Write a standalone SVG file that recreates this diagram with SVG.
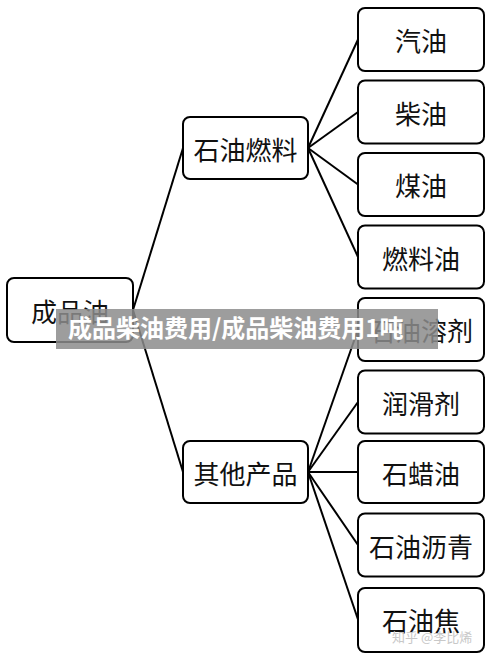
<svg xmlns="http://www.w3.org/2000/svg" width="496" height="660" viewBox="0 0 496 660">
<style>
.box{fill:#fff;stroke:#000;stroke-width:2}
.lbl{font-family:"Noto Sans CJK SC","Noto Sans",sans-serif;font-size:26px;fill:#111;text-anchor:middle;dominant-baseline:central}
.ln{stroke:#000;stroke-width:2;fill:none}
</style>
<rect width="496" height="660" fill="#fff"/>
<g id="connectors">
<line class="ln" x1="133" y1="310" x2="183" y2="148"/>
<line class="ln" x1="133" y1="310" x2="183" y2="472"/>
<line class="ln" x1="308" y1="148" x2="358" y2="39.5"/>
<line class="ln" x1="308" y1="148" x2="358" y2="112"/>
<line class="ln" x1="308" y1="148" x2="358" y2="184.5"/>
<line class="ln" x1="308" y1="148" x2="358" y2="257"/>
<line class="ln" x1="308" y1="472" x2="358" y2="329.5"/>
<line class="ln" x1="308" y1="472" x2="358" y2="402"/>
<line class="ln" x1="308" y1="472" x2="358" y2="472"/>
<line class="ln" x1="308" y1="472" x2="358" y2="545"/>
<line class="ln" x1="308" y1="472" x2="358" y2="619.5"/>
</g>
<g id="n-root"><rect class="box" x="7" y="278" width="126" height="64" rx="7"/><text class="lbl" x="70" y="310">成品油</text></g>
<g id="n-fuel"><rect class="box" x="183" y="117" width="125" height="62" rx="7"/><text class="lbl" x="245.5" y="148">石油燃料</text></g>
<g id="n-other"><rect class="box" x="183" y="441" width="125" height="62" rx="7"/><text class="lbl" x="245.5" y="472">其他产品</text></g>
<g id="n1"><rect class="box" x="358" y="8" width="126" height="63" rx="7"/><text class="lbl" x="421" y="39.5">汽油</text></g>
<g id="n2"><rect class="box" x="358" y="80.5" width="126" height="63" rx="7"/><text class="lbl" x="421" y="112">柴油</text></g>
<g id="n3"><rect class="box" x="358" y="153" width="126" height="63" rx="7"/><text class="lbl" x="421" y="184.5">煤油</text></g>
<g id="n4"><rect class="box" x="358" y="225.5" width="126" height="63" rx="7"/><text class="lbl" x="421" y="257">燃料油</text></g>
<g id="n5"><rect class="box" x="358" y="298" width="126" height="63" rx="7"/><text class="lbl" x="421" y="329.5">石油溶剂</text></g>
<g id="n6"><rect class="box" x="358" y="370.5" width="126" height="63" rx="7"/><text class="lbl" x="421" y="402">润滑剂</text></g>
<g id="n7"><rect class="box" x="358" y="441" width="126" height="62" rx="7"/><text class="lbl" x="421" y="472">石蜡油</text></g>
<g id="n8"><rect class="box" x="358" y="513.5" width="126" height="63" rx="7"/><text class="lbl" x="421" y="545">石油沥青</text></g>
<g id="n9"><rect class="box" x="358" y="588" width="126" height="64" rx="7"/><text class="lbl" x="421" y="619.5">石油焦</text></g>
<g id="banner">
<rect x="56" y="309" width="382" height="40" fill="#8c8c8c" fill-opacity="0.85"/>
<text x="68" y="337" font-family="'Noto Sans CJK SC',sans-serif" font-size="24" font-weight="bold" fill="#fff">成品柴油费用/成品柴油费用1吨</text>
</g>
<text x="392" y="642" font-family="'Noto Sans CJK SC',sans-serif" font-size="13" fill="#c8c8c8">知乎 @李比烯</text>
</svg>
